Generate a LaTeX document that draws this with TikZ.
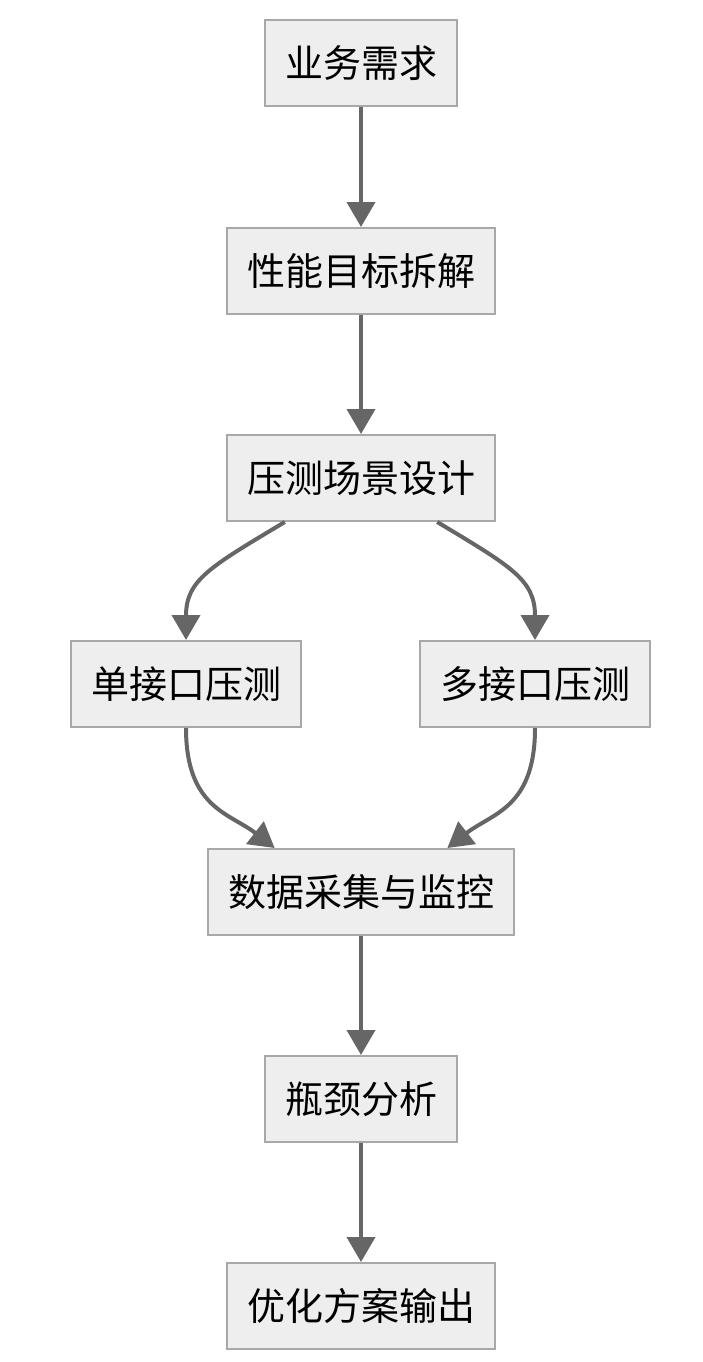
\documentclass[tikz,border=0pt]{standalone}
\usepackage{fontspec}
\newfontfamily\cjk{Noto Sans CJK SC}
\usepackage{xcolor}
\usetikzlibrary{arrows.meta}
\definecolor{boxfill}{HTML}{EEEEEE}
\definecolor{boxline}{HTML}{A8A8A8}
\definecolor{arrowgray}{HTML}{666666}
\tikzset{
  stepbox/.style={draw=boxline, fill=boxfill, line width=2pt, rectangle,
    minimum height=86pt, inner xsep=20pt, font=\cjk\fontsize{38}{40}\selectfont},
  arr/.style={draw=arrowgray, line width=4pt,
    -{Triangle[length=25pt, width=28pt]}}
}

\begin{document}
\begin{tikzpicture}[x=1pt, y=-1pt]
\useasboundingbox (0,0) rectangle (702,1362);
\node[stepbox] (1) at (361,63) {业务需求};
\node[stepbox] (2) at (361,271) {性能目标拆解};
\node[stepbox] (3) at (361,478) {压测场景设计};
\node[stepbox] (4) at (186,684) {单接口压测};
\node[stepbox] (5) at (535,684) {多接口压测};
\node[stepbox] (6) at (361,892) {数据采集与监控};
\node[stepbox] (7) at (361,1099) {瓶颈分析};
\node[stepbox] (8) at (361,1306) {优化方案输出};
\draw[arr] (1) -- (2);
\draw[arr] (2) -- (3);
\draw[arr] (3.-150) .. controls +(-75,45) and +(0,-60) .. (4.north);
\draw[arr] (3.-30) .. controls +(75,45) and +(0,-60) .. (5.north);
\draw[arr] (4.south) .. controls +(0,80) and +(-45,-35) .. (6.153);
\draw[arr] (5.south) .. controls +(0,80) and +(45,-35) .. (6.27);
\draw[arr] (6) -- (7);
\draw[arr] (7) -- (8);
\end{tikzpicture}
\end{document}
